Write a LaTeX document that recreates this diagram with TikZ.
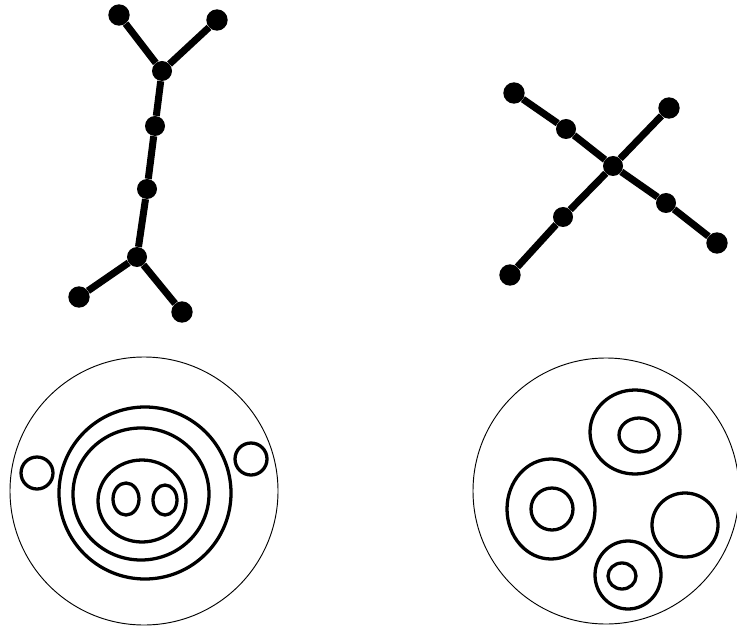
\documentclass[tikz,border=0pt]{standalone}
\usepackage{tikz}
\tikzset{
  dot/.style={circle, fill=black, inner sep=0pt, minimum size=6.4mm},
  hub/.style={dot, minimum size=6mm},
  edge/.style={line width=6pt},
  ring/.style={line width=2.8pt},
  disc/.style={line width=0.8pt}
}

\begin{document}
\begin{tikzpicture}[x=0.03cm, y=-0.03cm]
\useasboundingbox (0,0) rectangle (737,628);

% chain tree (top left)
\node[dot] (tl) at (119,15) {};
\node[dot] (tr) at (217,20) {};
\node[hub] (ja) at (162,71) {};
\node[hub] (m1) at (155,126) {};
\node[hub] (m2) at (147,189) {};
\node[hub] (jb) at (137,257) {};
\node[dot] (bl) at (79,297) {};
\node[dot] (br) at (182,312) {};
\draw[edge] (tl) -- (ja);
\draw[edge] (tr) -- (ja);
\draw[edge] (ja) -- (m1);
\draw[edge] (m1) -- (m2);
\draw[edge] (m2) -- (jb);
\draw[edge] (jb) -- (bl);
\draw[edge] (jb) -- (br);

% star tree (top right)
\node[hub] (c) at (613,166) {};
\node[dot] (nw) at (514,93) {};
\node[hub] (nw1) at (566,129) {};
\node[dot] (ne) at (669,108) {};
\node[dot] (sw) at (510,275) {};
\node[hub] (sw1) at (563,217) {};
\node[dot] (se) at (717,243) {};
\node[hub] (se1) at (666,203) {};
\draw[edge] (nw) -- (nw1);
\draw[edge] (nw1) -- (c);
\draw[edge] (ne) -- (c);
\draw[edge] (sw) -- (sw1);
\draw[edge] (sw1) -- (c);
\draw[edge] (c) -- (se1);
\draw[edge] (se1) -- (se);

% nested regions (bottom left)
\draw[disc] (144,491) circle (134);
\draw[ring] (145,493) circle (86);
\draw[ring] (141,494) ellipse (68 and 66);
\draw[ring] (142,501) ellipse (44 and 41);
\draw[ring] (126,499) ellipse (13 and 16);
\draw[ring] (165,500) ellipse (12 and 15);
\draw[ring] (37,473) circle (16);
\draw[ring] (251,459) circle (16);

% separate regions (bottom right)
\draw[disc] (606,491) circle (133);
\draw[ring] (635,432) ellipse (45 and 42);
\draw[ring] (639,435) ellipse (20 and 17);
\draw[ring] (551,509) ellipse (44 and 50);
\draw[ring] (552,509) circle (21);
\draw[ring] (685,525) ellipse (33 and 32);
\draw[ring] (628,575) ellipse (33 and 34);
\draw[ring] (622,576) ellipse (14 and 13);
\end{tikzpicture}
\end{document}
